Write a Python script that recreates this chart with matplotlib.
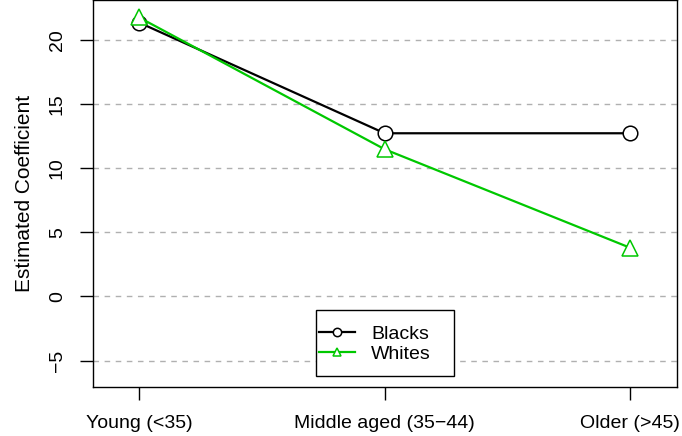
import matplotlib
matplotlib.use("Agg")
import matplotlib.pyplot as plt
from matplotlib.patches import Rectangle

categories = ["Young (<35)", "Middle aged (35\u221244)", "Older (>45)"]
blacks = [21.4, 12.75, 12.75]
whites = [21.8, 11.5, 3.8]
yticks = [-5, 0, 5, 10, 15, 20]

plt.rcParams['font.family'] = ['Liberation Sans', 'DejaVu Sans']
W, H = 682, 436
L, R, T, B = 93, 677, 0, 387
fig = plt.figure(figsize=(W/100, H/100), dpi=100)
ax = fig.add_axes([L/W, 1 - B/H, (R-L)/W, (B-T)/H])
x = [1, 2, 3]
green = '#00C800'
for yv in yticks:
    ax.axhline(yv, color='#b0b0b0', linestyle=(0, (4, 4)), linewidth=1, zorder=0)
ax.plot(x, blacks, color='black', linewidth=1.6, marker='o', markersize=10.5,
        markerfacecolor='white', markeredgecolor='black', markeredgewidth=1.1, label='Blacks', zorder=3)
ax.plot(x, whites, color=green, linewidth=1.6, marker='^', markersize=12,
        markerfacecolor='white', markeredgecolor=green, markeredgewidth=1.1, label='Whites', zorder=4)
ax.set_xlim(0.8126, 3.19)
ax.set_ylim(-7.07, 23.16)
ax.set_xticks(x)
ax.set_xticklabels(categories, fontsize=14)
ax.set_yticks(yticks)
ax.set_yticklabels([str(v).replace('-', '\u2212') for v in yticks], fontsize=14, rotation=90, va='center')
ax.tick_params(axis='both', length=9.5, width=1, direction='out')
ax.tick_params(axis='x', pad=11)
ax.tick_params(axis='y', pad=10)
for s in ax.spines.values():
    s.set_linewidth(1)
ax.set_ylabel("Estimated Coefficient", fontsize=15, labelpad=11)

def axx(px):
    return (px - L) / (R - L)

def axy(py):
    return (B - py) / (B - T)

ax.add_patch(Rectangle((axx(316), axy(376)), axx(454) - axx(316), axy(310) - axy(376),
                       transform=ax.transAxes, facecolor='white', edgecolor='black',
                       linewidth=1, zorder=5))
leg = ax.legend(loc='upper left', bbox_to_anchor=(axx(319), axy(325)), fontsize=14,
                frameon=False, borderpad=0, handlelength=1.85, handletextpad=0.82,
                labelspacing=0.15, borderaxespad=0)
leg.set_zorder(6)
for h in leg.legend_handles:
    h.set_markersize(6)
fig.savefig("out.png", dpi=100)
